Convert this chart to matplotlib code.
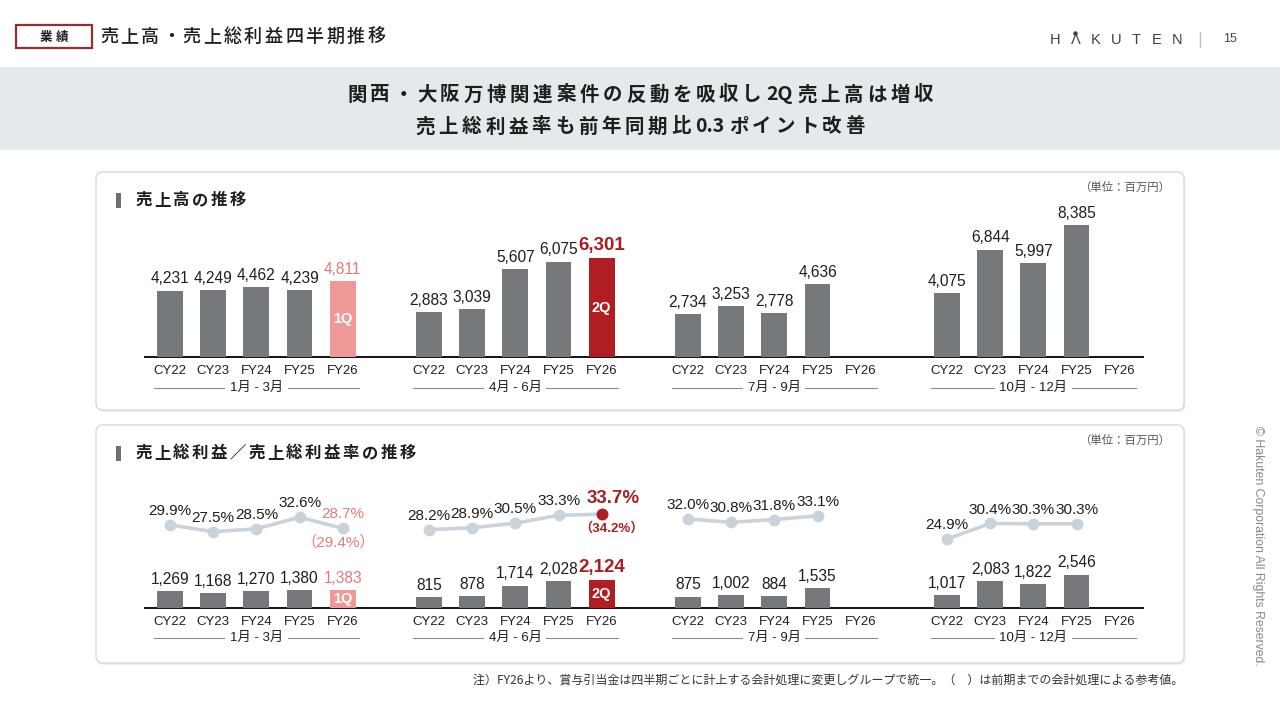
import matplotlib
matplotlib.use('Agg')
import matplotlib.pyplot as plt
import matplotlib.transforms as mtransforms
from matplotlib.patches import FancyBboxPatch, Rectangle
import numpy as np

plt.rcParams['font.family'] = ['Liberation Sans', 'Noto Sans CJK JP', 'DejaVu Sans']
JP = ['Noto Sans CJK JP', 'DejaVu Sans']

# ---------------- data ----------------
periods = ["1月 - 3月", "4月 - 6月", "7月 - 9月", "10月 - 12月"]
years = ["CY22", "CY23", "FY24", "FY25", "FY26"]

sales_q1 = [4231, 4249, 4462, 4239, 4811]
sales_q2 = [2883, 3039, 5607, 6075, 6301]
sales_q3 = [2734, 3253, 2778, 4636, np.nan]
sales_q4 = [4075, 6844, 5997, 8385, np.nan]

gp_q1 = [1269, 1168, 1270, 1380, 1383]
gp_q2 = [815, 878, 1714, 2028, 2124]
gp_q3 = [875, 1002, 884, 1535, np.nan]
gp_q4 = [1017, 2083, 1822, 2546, np.nan]

margin_q1 = [29.9, 27.5, 28.5, 32.6, 28.7]
margin_q2 = [28.2, 28.9, 30.5, 33.3, 33.7]
margin_q3 = [32.0, 30.8, 31.8, 33.1, np.nan]
margin_q4 = [24.9, 30.4, 30.3, 30.3, np.nan]

margin_prev_basis_q1 = 29.4   # FY26 1Q, previous accounting basis
margin_prev_basis_q2 = 34.2   # FY26 2Q, previous accounting basis

sales = [sales_q1, sales_q2, sales_q3, sales_q4]
gross = [gp_q1, gp_q2, gp_q3, gp_q4]
margins = [margin_q1, margin_q2, margin_q3, margin_q4]
prev_basis = {0: margin_prev_basis_q1, 1: margin_prev_basis_q2}

# ---------------- style ----------------
GREY = '#76797C'
PINK_BAR = '#EE9898'
PINK_TXT = '#E27A7A'
RED_BAR = '#B01E23'
RED_TXT = '#A81E22'
LINE_C = '#C9D3DC'
TXT = '#1E1E1E'

W, H = 1280, 720
fig = plt.figure(figsize=(12.8, 7.2), dpi=100)
bg = fig.add_axes([0, 0, 1, 1])
bg.set_xlim(0, W)
bg.set_ylim(H, 0)
bg.axis('off')


def spaced(x, y, s, size, spacing, ha='left', **kw):
    """Text with letter spacing, drawn in pixel coordinates on bg."""
    em = size * 100 / 72
    tokens, buf = [], ''
    for ch in s:
        if ord(ch) < 128:
            buf += ch
        else:
            if buf:
                tokens.append(buf)
                buf = ''
            tokens.append(ch)
    if buf:
        tokens.append(buf)
    r = fig.canvas.get_renderer()
    widths = []
    for t in tokens:
        if len(t) == 1 and ord(t) >= 128:
            widths.append(em)
        else:
            tt = bg.text(0, 0, t, fontsize=size, **kw)
            widths.append(tt.get_window_extent(renderer=r).width + 0.08 * em)
            tt.remove()
    total = sum(widths) + spacing * (len(tokens) - 1)
    x0 = x - total / 2 if ha == 'center' else x
    for t, w in zip(tokens, widths):
        bg.text(x0 + w / 2, y, t, ha='center', va='center', fontsize=size, **kw)
        x0 += w + spacing


# ---------------- header ----------------
bg.add_patch(Rectangle((16, 25), 76, 23, facecolor='white', edgecolor='#9B2B2C', lw=1.6))
spaced(54, 37, "業績", 9, 3, ha='center', weight='bold', family=JP, color=TXT)
spaced(100, 37, "売上高・売上総利益四半期推移", 13, 2.5, family=JP, color=TXT, weight='medium')

for i, ch in enumerate("HΛKUTEN"):
    bg.text(1055 + 20.3 * i, 40, ch, ha='center', va='center', fontsize=10.5, color='#404040',
            family=['Liberation Sans'])
bg.plot([1075.3], [32.5], 'o', ms=2.2, color='#404040')
bg.plot([1200, 1200], [32, 47], color='#C0C0C0', lw=1)
bg.text(1230, 39, "15", ha='center', va='center', fontsize=9, color='#444444')

# grey band
bg.add_patch(Rectangle((0, 67), W, 83, facecolor='#E4E9EC', edgecolor='none'))
spaced(640, 95, "関西・大阪万博関連案件の反動を吸収し2Q売上高は増収", 14, 3.8, ha='center',
       family=JP, weight='bold', color=TXT)
spaced(640, 127, "売上総利益率も前年同期比0.3ポイント改善", 14, 3.8, ha='center',
       family=JP, weight='bold', color=TXT)

# panels
for (y0, y1) in [(172, 410), (425, 663)]:
    bg.add_patch(FancyBboxPatch((97.5, y0 + 2), 1088, y1 - y0, boxstyle="round,pad=0,rounding_size=7",
                                facecolor='#ECECEC', edgecolor='none'))
    bg.add_patch(FancyBboxPatch((96, y0), 1088, y1 - y0, boxstyle="round,pad=0,rounding_size=7",
                                facecolor='white', edgecolor='#DCDCDC', lw=1.1))
    bg.text(1170, y0 + 15, "（単位：百万円）", ha='right', va='center', fontsize=8.2, family=JP,
            color='#555555')

bg.add_patch(Rectangle((116, 193), 5, 15, facecolor='#6E6E6E', edgecolor='none'))
spaced(135, 200, "売上高の推移", 11.8, 2.5, family=JP, weight='bold', color=TXT)
bg.add_patch(Rectangle((116, 446), 5, 15, facecolor='#6E6E6E', edgecolor='none'))
spaced(135, 453, "売上総利益／売上総利益率の推移", 11.8, 2.5, family=JP, weight='bold', color=TXT)

# footnote & copyright
bg.text(1183, 680, "注）FY26より、賞与引当金は四半期ごとに計上する会計処理に変更しグループで統一。（　）は前期までの会計処理による参考値。",
        ha='right', va='center', fontsize=8.65, family=JP, color='#333333')
bg.text(1258, 546, "© Hakuten Corporation All Rights Reserved.", rotation=-90, ha='center', va='center',
        fontsize=8.8, color='#888888')


# ---------------- data axes ----------------
def px_axes(x0, y0, x1, y1):
    a = fig.add_axes([x0 / W, 1 - y1 / H, (x1 - x0) / W, (y1 - y0) / H])
    a.patch.set_visible(False)
    return a


def style_axis(ax, label_drop_frac):
    for s in ['top', 'right', 'left']:
        ax.spines[s].set_visible(False)
    ax.spines['bottom'].set_color('#111111')
    ax.spines['bottom'].set_linewidth(1.4)
    ax.set_yticks([])
    pos = [g * 6 + i for g in range(4) for i in range(5)]
    ax.set_xticks(pos)
    ax.set_xticklabels(years * 4)
    ax.tick_params(axis='x', length=0, pad=5.5, labelsize=9.5, labelcolor=TXT)
    ax.set_xlim(-0.58, 22.54)
    tr = mtransforms.blended_transform_factory(ax.transData, ax.transAxes)
    for g, p in enumerate(periods):
        c = g * 6 + 2
        ax.plot([c - 2.38, c + 2.38], [label_drop_frac] * 2, transform=tr, clip_on=False,
                color='#8A8A8A', lw=0.8, zorder=1)
        ax.text(c, label_drop_frac, p, transform=tr, ha='center', va='center', fontsize=9.5,
                color=TXT, zorder=2,
                bbox=dict(boxstyle='square,pad=0.35', facecolor='white', edgecolor='none'))


def draw_bars(ax, data, big, small, inside_size):
    for g, vals in enumerate(data):
        for i, v in enumerate(vals):
            if np.isnan(v):
                continue
            x = g * 6 + i
            color, tcolor, weight, fs = GREY, TXT, 'normal', small
            tag = None
            if g == 0 and i == 4:
                color, tcolor, tag = PINK_BAR, PINK_TXT, "1Q"
            if g == 1 and i == 4:
                color, tcolor, weight, fs, tag = RED_BAR, RED_TXT, 'bold', big, "2Q"
            ax.bar(x, v, width=0.6, color=color, zorder=3)
            ax.annotate(f"{v:,.0f}", (x, v), xytext=(0, 3), textcoords='offset points',
                        ha='center', va='bottom', fontsize=fs, color=tcolor, weight=weight)
            if tag:
                ax.text(x, v / 2, tag, ha='center', va='center', color='white',
                        fontsize=inside_size, weight='bold', zorder=4)


# panel 1: sales
ax1 = px_axes(145, 210, 1143, 357)
ax1.set_ylim(0, 147 / 0.0157)
style_axis(ax1, -31 / 147)
draw_bars(ax1, sales, 13.5, 11.2, 10.5)

# panel 2: gross profit + margin
ax2 = px_axes(145, 470, 1143, 608)
ax2.set_ylim(0, 138 / 0.0131)
style_axis(ax2, -30 / 138)
draw_bars(ax2, gross, 13.5, 11.2, 10.5)

ax2b = ax2.twinx()
ax2b.patch.set_visible(False)
ax2b.axis('off')
ax2b.set_ylim(0.53, 49.3)
for g, ms in enumerate(margins):
    xs = [g * 6 + i for i, m in enumerate(ms) if not np.isnan(m)]
    ys = [m for m in ms if not np.isnan(m)]
    ax2b.plot(xs, ys, color=LINE_C, lw=2.6, marker='o', ms=7.5, zorder=3)
    for x, m in zip(xs, ys):
        i = x - g * 6
        if g == 1 and i == 4:
            ax2b.plot([x], [m], 'o', ms=7.5, color=RED_BAR, zorder=4)
            ax2b.annotate(f"{m:.1f}%", (x, m), xytext=(8, 5), textcoords='offset points',
                          ha='center', va='bottom', fontsize=13.5, weight='bold', color=RED_TXT)
            ax2b.annotate(f"（{prev_basis[g]:.1f}%）", (x, m), xytext=(7, -6), textcoords='offset points',
                          ha='center', va='top', fontsize=9.5, weight='bold', color=RED_TXT)
        elif g == 0 and i == 4:
            ax2b.annotate(f"{m:.1f}%", (x, m), xytext=(0, 5), textcoords='offset points',
                          ha='center', va='bottom', fontsize=11, color=PINK_TXT)
            ax2b.annotate(f"（{prev_basis[g]:.1f}%）", (x, m), xytext=(-3, -5), textcoords='offset points',
                          ha='center', va='top', fontsize=11, color=PINK_TXT)
        else:
            ax2b.annotate(f"{m:.1f}%", (x, m), xytext=(0, 5), textcoords='offset points',
                          ha='center', va='bottom', fontsize=11, color=TXT)

fig.savefig("out.png", dpi=100)
